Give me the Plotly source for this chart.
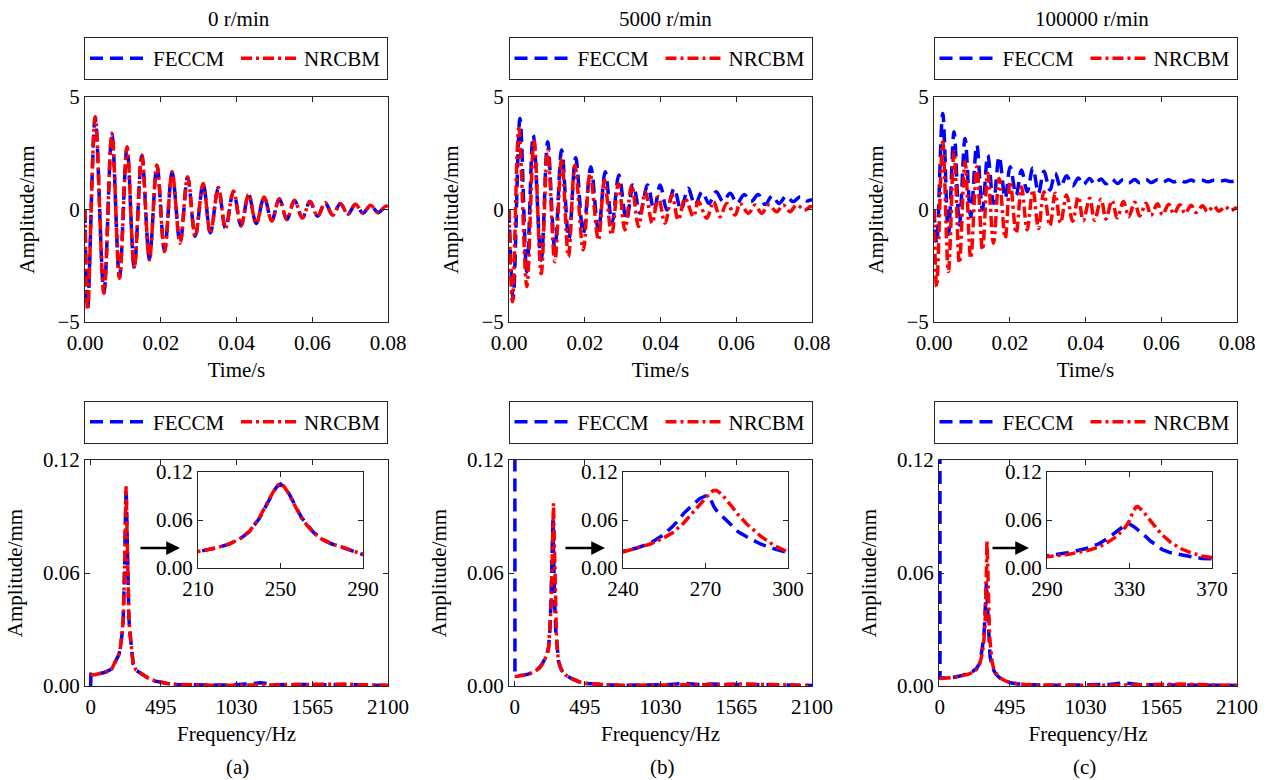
import plotly.graph_objects as go

W, H = 1270, 780
FONT = "Liberation Serif"
FS = 21
BLUE = "#0000FF"
RED = "#FF0000"
AXC = "#262626"

speed_titles = ["0 r/min", "5000 r/min", "100000 r/min"]
panel_labels = ["(a)", "(b)", "(c)"]
series_names = ["FECCM", "NRCBM"]

# ---------------- time-domain responses (extrema) ----------------
t_a = [0.0000, 0.0007, 0.0027, 0.0050, 0.0071, 0.0091, 0.0111, 0.0130, 0.0150, 0.0170,
       0.0190, 0.0210, 0.0230, 0.0251, 0.0271, 0.0291, 0.0312, 0.0331, 0.0352, 0.0371,
       0.0392, 0.0412, 0.0432, 0.0452, 0.0473, 0.0493, 0.0513, 0.0533, 0.0553, 0.0574,
       0.0594, 0.0614, 0.0634, 0.0654, 0.0674, 0.0694, 0.0714, 0.0734, 0.0754, 0.0774,
       0.0794, 0.0800]
feccm_a = [0.0, -4.40, 4.05, -3.65, 3.32, -3.00, 2.74, -2.56, 2.38, -2.20,
           1.95, -1.84, 1.66, -1.48, 1.43, -1.19, 1.14, -1.04, 0.96, -0.83,
           0.80, -0.72, 0.66, -0.62, 0.55, -0.50, 0.47, -0.44, 0.40, -0.37,
           0.35, -0.30, 0.30, -0.25, 0.26, -0.20, 0.22, -0.16, 0.18, -0.13,
           0.14, 0.11]
nrcbm_a = [0.0, -4.47, 4.12, -3.72, 3.39, -3.06, 2.79, -2.61, 2.42, -2.24,
           1.98, -1.87, 1.68, -1.50, 1.46, -1.21, 1.16, -1.06, 0.98, -0.84,
           0.82, -0.73, 0.67, -0.63, 0.56, -0.51, 0.48, -0.45, 0.41, -0.38,
           0.36, -0.31, 0.31, -0.26, 0.27, -0.21, 0.23, -0.17, 0.19, -0.14,
           0.15, 0.12]

t_b_feccm = [0.0000, 0.0011, 0.0029, 0.0047, 0.0064, 0.0085, 0.0102, 0.0121, 0.0139, 0.0158,
             0.0176, 0.0196, 0.0216, 0.0236, 0.0254, 0.0272, 0.0290, 0.0310, 0.0328, 0.0346,
             0.0366, 0.0383, 0.0399, 0.0417, 0.0436, 0.0454, 0.0473, 0.0491, 0.0510, 0.0528,
             0.0547, 0.0565, 0.0584, 0.0602, 0.0621, 0.0639, 0.0658, 0.0676, 0.0695, 0.0713,
             0.0732, 0.0750, 0.0769, 0.0787, 0.0800]
feccm_b = [0.0, -3.95, 4.05, -2.76, 3.31, -2.26, 3.01, -1.74, 2.64, -1.34,
           2.30, -1.07, 1.90, -0.93, 1.68, -0.60, 1.53, -0.47, 1.09, -0.17,
           1.09, -0.05, 1.09, -0.02, 0.94, -0.02, 0.94, 0.20, 0.79, 0.27,
           0.79, 0.35, 0.72, 0.27, 0.67, 0.35, 0.67, 0.22, 0.61, 0.27,
           0.60, 0.35, 0.57, 0.38, 0.45]
t_b_nrcbm = [0.0000, 0.0009, 0.0026, 0.0047, 0.0066, 0.0085, 0.0102, 0.0121, 0.0139, 0.0157,
             0.0174, 0.0196, 0.0214, 0.0236, 0.0252, 0.0271, 0.0289, 0.0306, 0.0324, 0.0342,
             0.0360, 0.0378, 0.0394, 0.0412, 0.0430, 0.0447, 0.0465, 0.0487, 0.0500, 0.0522,
             0.0540, 0.0557, 0.0575, 0.0597, 0.0610, 0.0632, 0.0650, 0.0667, 0.0685, 0.0707,
             0.0724, 0.0742, 0.0759, 0.0781, 0.0795, 0.0800]
nrcbm_b = [0.0, -4.10, 3.61, -3.43, 3.09, -2.85, 2.64, -2.32, 2.27, -2.10,
           1.97, -1.80, 1.60, -1.36, 1.31, -1.13, 1.16, -0.91, 1.09, -0.76,
           0.79, -0.61, 0.58, -0.61, 0.64, -0.47, 0.50, -0.32, 0.35, -0.39,
           0.35, -0.32, 0.27, -0.24, 0.27, -0.17, 0.20, -0.17, 0.20, -0.10,
           0.20, -0.10, 0.20, -0.02, 0.12, 0.12]

t_c = [0.0000, 0.0007, 0.0023, 0.0038, 0.0053, 0.0067, 0.0082, 0.0097, 0.0113, 0.0128,
       0.0142, 0.0157, 0.0172, 0.0188, 0.0201, 0.0217, 0.0231, 0.0246, 0.0261, 0.0276,
       0.0290, 0.0306, 0.0320, 0.0334, 0.0350, 0.0366, 0.0381, 0.0394, 0.0411, 0.0424,
       0.0441, 0.0454, 0.0470, 0.0484, 0.0500, 0.0514, 0.0530, 0.0543, 0.0560, 0.0573,
       0.0590, 0.0603, 0.0620, 0.0633, 0.0649, 0.0663, 0.0679, 0.0692, 0.0709, 0.0722,
       0.0739, 0.0752, 0.0769, 0.0782, 0.0800]
feccm_c = [0.00, -1.50, 4.27, -1.10, 3.46, -0.69, 3.16, -0.32, 2.87, -0.02,
           2.42, 0.27, 2.35, 0.50, 1.90, 0.64, 1.76, 0.79, 1.85, 0.72,
           1.70, 0.87, 1.62, 1.00, 1.50, 1.05, 1.40, 1.10, 1.38, 1.12,
           1.36, 1.14, 1.35, 1.16, 1.34, 1.18, 1.33, 1.19, 1.33, 1.20,
           1.32, 1.21, 1.32, 1.22, 1.31, 1.22, 1.31, 1.23, 1.30, 1.23,
           1.30, 1.24, 1.30, 1.24, 1.28]
nrcbm_c = [0.00, -3.43, 3.01, -2.76, 2.57, -2.39, 2.12, -2.17, 1.90, -1.80,
           1.61, -1.50, 1.39, -1.28, 1.24, -1.06, 1.01, -0.91, 0.87, -0.84,
           0.79, -0.72, 0.72, -0.60, 0.64, -0.53, 0.57, -0.50, 0.50, -0.48,
           0.46, -0.42, 0.40, -0.37, 0.35, -0.32, 0.32, -0.29, 0.28, -0.26,
           0.25, -0.23, 0.23, -0.20, 0.21, -0.17, 0.19, -0.13, 0.17, -0.10,
           0.15, -0.08, 0.13, -0.04, 0.10]

# ---------------- amplitude spectra ----------------
freq_a = [0, 2, 25, 50, 75, 100, 125, 150, 170, 185, 200, 210, 215, 220, 225, 230, 235, 240,
          243, 246, 248, 250, 252, 254, 256, 258, 260, 263, 266, 270, 275, 280, 285, 290,
          300, 320, 350, 400, 450, 500, 550, 600, 700, 800, 900, 1000, 1100, 1150, 1200,
          1250, 1300, 1400, 1500, 1600, 1700, 1800, 1900, 2000, 2100]
feccm_fa = [0.0000, 0.0062, 0.0062, 0.0064, 0.0068, 0.0073, 0.0080, 0.0091, 0.0122, 0.0148,
            0.0168, 0.0203, 0.0228, 0.0258, 0.0298, 0.0358, 0.0455, 0.0630, 0.0780, 0.0930,
            0.1010, 0.1050, 0.1005, 0.0935, 0.0840, 0.0730, 0.0640, 0.0540, 0.0445, 0.0362,
            0.0300, 0.0258, 0.0208, 0.0168, 0.0118, 0.0084, 0.0068, 0.0044, 0.0027, 0.0017,
            0.0011, 0.0008, 0.0006, 0.0005, 0.0005, 0.0006, 0.0009, 0.0013, 0.0017, 0.0012,
            0.0007, 0.0008, 0.0008, 0.0009, 0.0010, 0.0008, 0.0006, 0.0004, 0.0003]
nrcbm_fa = [0.0055, 0.0057, 0.0060, 0.0063, 0.0067, 0.0072, 0.0079, 0.0090, 0.0125, 0.0150,
            0.0170, 0.0205, 0.0230, 0.0260, 0.0300, 0.0360, 0.0460, 0.0640, 0.0790, 0.0940,
            0.1020, 0.1060, 0.1010, 0.0930, 0.0830, 0.0720, 0.0630, 0.0530, 0.0440, 0.0360,
            0.0300, 0.0260, 0.0210, 0.0170, 0.0120, 0.0085, 0.0070, 0.0045, 0.0028, 0.0018,
            0.0012, 0.0009, 0.0006, 0.0005, 0.0004, 0.0004, 0.0005, 0.0006, 0.0007, 0.0006,
            0.0005, 0.0007, 0.0009, 0.0012, 0.0013, 0.0010, 0.0007, 0.0005, 0.0004]

freq_b = [0, 2, 25, 50, 75, 100, 125, 150, 175, 200, 220, 230, 240, 245, 250, 255, 258, 260,
          262, 264, 266, 268, 270, 271, 272, 273, 274, 276, 278, 280, 282, 285, 290, 295,
          300, 310, 330, 360, 400, 450, 500, 600, 700, 800, 900, 1000, 1100, 1200, 1250,
          1300, 1400, 1500, 1600, 1700, 1800, 1900, 2000, 2100]
feccm_fb = [0.4500, 0.0058, 0.0055, 0.0056, 0.0059, 0.0064, 0.0071, 0.0082, 0.0098, 0.0125,
            0.0155, 0.0175, 0.0210, 0.0250, 0.0310, 0.0420, 0.0520, 0.0590, 0.0680, 0.0750,
            0.0810, 0.0870, 0.0900, 0.0900, 0.0850, 0.0770, 0.0720, 0.0650, 0.0580, 0.0510,
            0.0450, 0.0390, 0.0300, 0.0240, 0.0190, 0.0130, 0.0085, 0.0058, 0.0040, 0.0024,
            0.0014, 0.0008, 0.0005, 0.0004, 0.0004, 0.0005, 0.0008, 0.0014, 0.0012, 0.0008,
            0.0010, 0.0007, 0.0008, 0.0007, 0.0005, 0.0004, 0.0003, 0.0003]
nrcbm_fb = [0.0050, 0.0050, 0.0052, 0.0055, 0.0058, 0.0063, 0.0070, 0.0080, 0.0095, 0.0120,
            0.0150, 0.0170, 0.0200, 0.0250, 0.0300, 0.0380, 0.0440, 0.0500, 0.0560, 0.0640,
            0.0720, 0.0800, 0.0880, 0.0910, 0.0950, 0.0970, 0.0970, 0.0920, 0.0840, 0.0750,
            0.0660, 0.0550, 0.0400, 0.0280, 0.0200, 0.0130, 0.0085, 0.0058, 0.0040, 0.0024,
            0.0014, 0.0008, 0.0005, 0.0004, 0.0004, 0.0004, 0.0005, 0.0006, 0.0006, 0.0005,
            0.0006, 0.0008, 0.0011, 0.0011, 0.0008, 0.0006, 0.0004, 0.0003]

freq_c = [0, 2, 25, 50, 100, 150, 200, 230, 260, 280, 290, 300, 310, 315, 320, 324, 328, 330,
          331, 332, 333, 334, 336, 337, 338, 340, 343, 345, 346, 350, 355, 360, 365, 370,
          380, 400, 430, 460, 500, 550, 600, 700, 800, 900, 1000, 1100, 1200, 1300, 1350,
          1400, 1500, 1600, 1700, 1800, 1900, 2000, 2100]
feccm_fc = [0.9000, 0.0042, 0.0042, 0.0043, 0.0047, 0.0054, 0.0065, 0.0076, 0.0093, 0.0118,
            0.0150, 0.0190, 0.0250, 0.0300, 0.0380, 0.0460, 0.0540, 0.0550, 0.0540, 0.0520,
            0.0500, 0.0480, 0.0440, 0.0420, 0.0390, 0.0340, 0.0280, 0.0250, 0.0230, 0.0190,
            0.0160, 0.0140, 0.0120, 0.0110, 0.0085, 0.0060, 0.0040, 0.0027, 0.0017, 0.0011,
            0.0008, 0.0005, 0.0004, 0.0004, 0.0004, 0.0005, 0.0008, 0.0016, 0.0012, 0.0008,
            0.0006, 0.0006, 0.0006, 0.0005, 0.0004, 0.0003, 0.0003]
nrcbm_fc = [0.0040, 0.0040, 0.0041, 0.0042, 0.0046, 0.0052, 0.0062, 0.0072, 0.0088, 0.0110,
            0.0140, 0.0170, 0.0220, 0.0260, 0.0330, 0.0400, 0.0510, 0.0590, 0.0660, 0.0710,
            0.0760, 0.0770, 0.0730, 0.0700, 0.0660, 0.0590, 0.0500, 0.0440, 0.0410, 0.0320,
            0.0240, 0.0190, 0.0150, 0.0130, 0.0095, 0.0065, 0.0042, 0.0028, 0.0018, 0.0012,
            0.0008, 0.0005, 0.0004, 0.0004, 0.0003, 0.0004, 0.0004, 0.0005, 0.0005, 0.0005,
            0.0006, 0.0009, 0.0010, 0.0008, 0.0006, 0.0004, 0.0003]

time_ticks = [0, 0.02, 0.04, 0.06, 0.08]
amp_ticks = [-5, 0, 5]
freq_ticks = [0, 495, 1030, 1565, 2100]
spec_ticks = [0, 0.06, 0.12]
freq_ranges = [[-40, 2100], [-40, 2100], [-5, 2100]]
inset_ranges = [[210, 290], [240, 300], [290, 370]]
inset_ticks = [[210, 250, 290], [240, 270, 300], [290, 330, 370]]

time_data = [(t_a, feccm_a, t_a, nrcbm_a),
             (t_b_feccm, feccm_b, t_b_nrcbm, nrcbm_b),
             (t_c, feccm_c, t_c, nrcbm_c)]
spec_data = [(freq_a, feccm_fa, nrcbm_fa),
             (freq_b, feccm_fb, nrcbm_fb),
             (freq_c, feccm_fc, nrcbm_fc)]

# ---------------- layout geometry (pixels) ----------------
def px_x(p):
    return p / W

def px_y(p):
    return 1 - p / H

top_px_x = [(85, 388), (509, 812), (934, 1237)]
bot_px_x = [(85, 388), (509, 812), (939, 1237)]
top_px_y = (97, 322)
bot_px_y = (460, 686)
ins_px_x = [(198, 363), (623, 788), (1047, 1212)]
ins_px_y = (472, 568)
legend_cx = [236, 660.5, 1085.5]
title_cx = [239, 665, 1092]
label_cx = [237, 662, 1084]
arrow_px = [(139, 180), (564, 605), (991, 1029)]

DASH_B = "13px,7px"
DASH_R = "11px,4px,3px,4px"
LW = 3.5

fig = go.Figure()

def axname(n):
    return "" if n == 1 else str(n)

for i in range(3):
    tb, yb, tr, yr = time_data[i]
    n_top = i + 1
    leg_top = "legend" + axname(n_top)
    fig.add_trace(go.Scatter(x=tb, y=yb, name=series_names[0], mode="lines",
                             line=dict(color=BLUE, width=LW, dash=DASH_B, shape="spline", smoothing=1.0),
                             xaxis="x" + axname(n_top), yaxis="y" + axname(n_top), legend=leg_top))
    fig.add_trace(go.Scatter(x=tr, y=yr, name=series_names[1], mode="lines",
                             line=dict(color=RED, width=LW, dash=DASH_R, shape="spline", smoothing=1.0),
                             xaxis="x" + axname(n_top), yaxis="y" + axname(n_top), legend=leg_top))

    f, sb, sr = spec_data[i]
    n_bot = i + 4
    leg_bot = "legend" + str(n_bot)
    fig.add_trace(go.Scatter(x=f, y=sb, name=series_names[0], mode="lines",
                             line=dict(color=BLUE, width=LW, dash=DASH_B),
                             xaxis="x" + str(n_bot), yaxis="y" + str(n_bot), legend=leg_bot))
    fig.add_trace(go.Scatter(x=f, y=sr, name=series_names[1], mode="lines",
                             line=dict(color=RED, width=LW, dash=DASH_R),
                             xaxis="x" + str(n_bot), yaxis="y" + str(n_bot), legend=leg_bot))
    n_ins = i + 7
    fig.add_trace(go.Scatter(x=f, y=sb, name=series_names[0], mode="lines", showlegend=False,
                             line=dict(color=BLUE, width=LW, dash=DASH_B),
                             xaxis="x" + str(n_ins), yaxis="y" + str(n_ins)))
    fig.add_trace(go.Scatter(x=f, y=sr, name=series_names[1], mode="lines", showlegend=False,
                             line=dict(color=RED, width=LW, dash=DASH_R),
                             xaxis="x" + str(n_ins), yaxis="y" + str(n_ins)))

tickfont = dict(family=FONT, size=FS, color="black")
titlefont = dict(family=FONT, size=FS, color="black")

def base_axis(**kw):
    d = dict(showline=True, mirror="ticks", linecolor=AXC, linewidth=1, ticks="inside",
             ticklen=5, tickwidth=1, tickcolor=AXC, showgrid=False, zeroline=False,
             tickfont=tickfont, automargin=False, fixedrange=True)
    d.update(kw)
    return d

layout = {}
for i in range(3):
    n = i + 1
    layout["xaxis" + axname(n)] = base_axis(
        domain=[px_x(top_px_x[i][0]), px_x(top_px_x[i][1])], anchor="y" + axname(n),
        range=[0, 0.08], tickvals=time_ticks, tickformat=".2f", ticklabelstandoff=2,
        title=dict(text="Time/s", font=titlefont, standoff=8))
    layout["yaxis" + axname(n)] = base_axis(
        domain=[px_y(top_px_y[1]), px_y(top_px_y[0])], anchor="x" + axname(n),
        range=[-5, 5], tickvals=amp_ticks,
        title=dict(text="Amplitude/mm", font=titlefont, standoff=17))
    n = i + 4
    layout["xaxis" + str(n)] = base_axis(
        domain=[px_x(bot_px_x[i][0]), px_x(bot_px_x[i][1])], anchor="y" + str(n),
        range=freq_ranges[i], tickvals=freq_ticks, ticklabelstandoff=2,
        title=dict(text="Frequency/Hz", font=titlefont, standoff=8))
    layout["yaxis" + str(n)] = base_axis(
        domain=[px_y(bot_px_y[1]), px_y(bot_px_y[0])], anchor="x" + str(n),
        range=[0, 0.12], tickvals=spec_ticks, tickformat=".2f",
        title=dict(text="Amplitude/mm", font=titlefont, standoff=14))
    n = i + 7
    layout["xaxis" + str(n)] = base_axis(
        domain=[px_x(ins_px_x[i][0]), px_x(ins_px_x[i][1])], anchor="y" + str(n),
        range=inset_ranges[i], tickvals=inset_ticks[i], ticklabelstandoff=2)
    layout["yaxis" + str(n)] = base_axis(
        domain=[px_y(ins_px_y[1]), px_y(ins_px_y[0])], anchor="x" + str(n),
        range=[0, 0.12], tickvals=spec_ticks, tickformat=".2f")

legend_common = dict(orientation="h", xanchor="center", yanchor="middle",
                     bordercolor=AXC, borderwidth=1, bgcolor="white",
                     font=dict(family=FONT, size=FS, color="black"),
                     itemwidth=58, entrywidth=78, entrywidthmode="pixels",
                     itemclick=False, itemdoubleclick=False)
for i in range(3):
    layout["legend" + axname(i + 1)] = dict(legend_common, x=px_x(legend_cx[i]), y=px_y(58.5))
    layout["legend" + str(i + 4)] = dict(legend_common, x=px_x(legend_cx[i]), y=px_y(422))

annotations = []
for i in range(3):
    annotations.append(dict(text=speed_titles[i], x=px_x(title_cx[i]), y=px_y(19),
                            xref="paper", yref="paper", showarrow=False,
                            font=dict(family=FONT, size=FS, color="black"),
                            xanchor="center", yanchor="middle"))
    annotations.append(dict(text=panel_labels[i], x=px_x(label_cx[i]), y=px_y(767),
                            xref="paper", yref="paper", showarrow=False,
                            font=dict(family=FONT, size=FS, color="black"),
                            xanchor="center", yanchor="middle"))
    x0, x1 = arrow_px[i]
    annotations.append(dict(text="", x=px_x(x1), y=px_y(548), xref="paper", yref="paper",
                            ax=x0 - x1, ay=0, showarrow=True, arrowhead=2, arrowsize=1.1,
                            arrowwidth=2.5, arrowcolor="black", standoff=0))

fig.update_layout(width=W, height=H, margin=dict(l=0, r=0, t=0, b=0),
                  paper_bgcolor="white", plot_bgcolor="white",
                  font=dict(family=FONT, size=FS, color="black"),
                  annotations=annotations, hovermode=False, **layout)

fig.write_html("out.html", config={"displayModeBar": False})
